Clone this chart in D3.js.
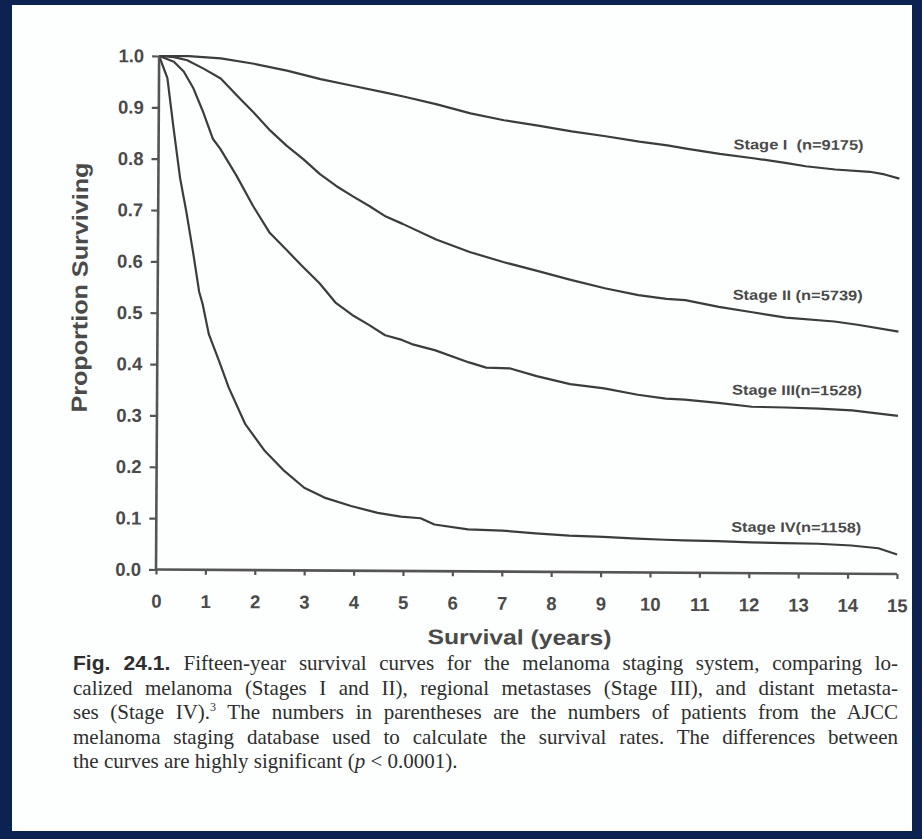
<!DOCTYPE html>
<html>
<head>
<meta charset="utf-8">
<script src="https://cdn.jsdelivr.net/npm/d3@7/dist/d3.min.js"></script>
<style>
  html, body { margin: 0; padding: 0; background: #0c2352; }
  svg { display: block; }
</style>
</head>
<body>
<svg id="fig" width="922" height="839"></svg>
<script>
// Kaplan–Meier survival estimates (years since diagnosis, proportion surviving)
const stageIYears  = [0, 0.6, 1.25, 1.92, 2.59, 3.27, 3.94, 4.61, 4.95, 5.63, 6.31, 6.99, 7.68, 8.36, 9.05, 9.73, 10.3, 10.68, 11.36, 12.04, 12.72, 13.1, 13.7, 14.4, 14.7, 15];
const stageIValues = [1.0, 1.0, 0.996, 0.986, 0.973, 0.957, 0.944, 0.931, 0.924, 0.909, 0.892, 0.879, 0.869, 0.858, 0.849, 0.839, 0.832, 0.826, 0.816, 0.808, 0.799, 0.793, 0.787, 0.783, 0.778, 0.770];

const stageIIYears  = [0, 0.3, 0.57, 0.9, 1.25, 1.58, 1.92, 2.26, 2.59, 2.93, 3.27, 3.6, 3.94, 4.28, 4.61, 4.95, 5.63, 6.31, 6.99, 7.68, 8.36, 9.05, 9.73, 10.3, 10.68, 11.36, 12.04, 12.72, 13.7, 14.17, 15];
const stageIIValues = [1.0, 0.998, 0.992, 0.976, 0.957, 0.924, 0.891, 0.856, 0.827, 0.801, 0.772, 0.749, 0.729, 0.71, 0.69, 0.676, 0.646, 0.622, 0.603, 0.586, 0.569, 0.553, 0.540, 0.533, 0.531, 0.518, 0.508, 0.498, 0.491, 0.485, 0.472];

const stageIIIYears  = [0, 0.3, 0.5, 0.7, 0.9, 1.1, 1.25, 1.58, 1.92, 2.26, 2.59, 2.93, 3.27, 3.6, 3.94, 4.28, 4.61, 4.95, 5.15, 5.63, 6.31, 6.66, 7.13, 7.68, 8.36, 9.05, 9.73, 10.3, 10.68, 11.36, 12.04, 12.72, 13.4, 14.07, 15];
const stageIIIValues = [1.0, 0.989, 0.97, 0.937, 0.891, 0.839, 0.82, 0.768, 0.709, 0.657, 0.625, 0.592, 0.56, 0.522, 0.498, 0.479, 0.459, 0.45, 0.442, 0.43, 0.407, 0.397, 0.396, 0.381, 0.366, 0.358, 0.346, 0.339, 0.337, 0.331, 0.324, 0.323, 0.321, 0.318, 0.308];

const stageIVYears  = [0, 0.17, 0.3, 0.44, 0.57, 0.71, 0.84, 0.91, 1.04, 1.25, 1.45, 1.79, 2.19, 2.59, 2.99, 3.4, 3.94, 4.48, 4.95, 5.35, 5.63, 6.31, 7.0, 7.68, 8.36, 9.05, 9.73, 10.3, 10.68, 11.36, 12.04, 12.72, 13.4, 14.07, 14.62, 15];
const stageIVValues = [1.0, 0.957, 0.86, 0.762, 0.697, 0.619, 0.541, 0.518, 0.459, 0.407, 0.355, 0.284, 0.232, 0.193, 0.161, 0.142, 0.126, 0.113, 0.106, 0.103, 0.091, 0.082, 0.08, 0.075, 0.071, 0.069, 0.066, 0.064, 0.063, 0.062, 0.06, 0.059, 0.058, 0.055, 0.05, 0.038];

const stageNames  = ["Stage I  (n=9175)", "Stage II (n=5739)", "Stage III(n=1528)", "Stage IV(n=1158)"];
const xTickValues = d3.range(0, 16);
const yTickValues = [0, 0.1, 0.2, 0.3, 0.4, 0.5, 0.6, 0.7, 0.8, 0.9, 1.0];

const captionLines = [
  "Fifteen-year survival curves for the melanoma staging system, comparing lo-",
  "calized melanoma (Stages I and II), regional metastases (Stage III), and distant metasta-",
  "The numbers in parentheses are the numbers of patients from the AJCC",
  "melanoma staging database used to calculate the survival rates. The differences between",
  "the curves are highly significant ("
];

const series = [
  { years: stageIYears,   values: stageIValues,   name: stageNames[0], labelY: 0.835 },
  { years: stageIIYears,  values: stageIIValues,  name: stageNames[1], labelY: 0.542 },
  { years: stageIIIYears, values: stageIIIValues, name: stageNames[2], labelY: 0.357 },
  { years: stageIVYears,  values: stageIVValues,  name: stageNames[3], labelY: 0.090 }
];

const svg = d3.select("#fig");
const sans = "'Liberation Sans', Arial, sans-serif";
const serif = "'Liberation Serif', 'Times New Roman', serif";
const ink = "#4a4a4a";

// page
svg.append("rect").attr("x", 0).attr("y", 0).attr("width", 922).attr("height", 839).attr("fill", "#0c2352");
svg.append("rect").attr("x", 12).attr("y", 5).attr("width", 900).attr("height", 826).attr("fill", "#fdfefe");

const x0 = 156, y0 = 569.5;
const x = d3.scaleLinear().domain([0, 15]).range([x0, 897]);
const y = d3.scaleLinear().domain([0, 1]).range([y0, 56]);

// the printed figure sits very slightly skewed on the page
const plot = svg.append("g").attr("transform", `rotate(0.35, ${x0}, ${y0})`);

// curves
const line = d3.line().x(d => x(d[0])).y(d => y(d[1]));
plot.selectAll("path.curve")
  .data(series)
  .join("path")
  .attr("class", "curve")
  .attr("d", s => line(s.years.map((t, i) => [t, s.values[i]])))
  .attr("fill", "none")
  .attr("stroke", "#3c3c3c")
  .attr("stroke-width", 2.2)
  .attr("stroke-linejoin", "round");

// axes
const yAxis = d3.axisLeft(y).tickValues(yTickValues).tickFormat(d3.format(".1f")).tickSize(7).tickPadding(8);
const xAxis = d3.axisBottom(x).tickValues(xTickValues).tickFormat(d3.format("d")).tickSize(5).tickPadding(20);

const gy = plot.append("g").attr("transform", `translate(${x0},0)`).call(yAxis);
const gx = plot.append("g").attr("transform", `translate(0,${y0})`).call(xAxis);

[gx, gy].forEach(g => {
  g.select(".domain").attr("stroke", "#555").attr("stroke-width", 2.6);
  g.selectAll(".tick line").attr("stroke", "#555").attr("stroke-width", 2.2);
  g.selectAll(".tick text")
    .attr("fill", ink)
    .style("font-family", sans)
    .style("font-weight", "bold")
    .style("font-size", "18.5px");
});
gx.select(".domain").attr("d", `M${x0},0H${x(15)}`);
gy.select(".domain").attr("d", `M0,${y0}V${y(1)}`);

// stage labels
plot.selectAll("text.stage")
  .data(series)
  .join("text")
  .attr("class", "stage")
  .attr("x", 731)
  .attr("y", s => y(s.labelY))
  .attr("dy", "0.35em")
  .attr("textLength", 130)
  .attr("lengthAdjust", "spacingAndGlyphs")
  .attr("fill", ink)
  .style("font-family", sans)
  .style("font-weight", "bold")
  .style("font-size", "14px")
  .style("white-space", "pre")
  .text(s => s.name);

// axis titles
plot.append("text")
  .attr("transform", "translate(78,288) rotate(-90)")
  .attr("text-anchor", "middle")
  .attr("dy", "0.35em")
  .attr("textLength", 250)
  .attr("lengthAdjust", "spacingAndGlyphs")
  .attr("fill", ink)
  .style("font-family", sans)
  .style("font-weight", "bold")
  .style("font-size", "22px")
  .text("Proportion Surviving");

plot.append("text")
  .attr("x", 520)
  .attr("y", 635)
  .attr("text-anchor", "middle")
  .attr("dy", "0.35em")
  .attr("textLength", 184)
  .attr("lengthAdjust", "spacingAndGlyphs")
  .attr("fill", ink)
  .style("font-family", sans)
  .style("font-weight", "bold")
  .style("font-size", "21px")
  .text("Survival (years)");

// caption
const capX = 73, capRight = 898, capTop = 670, capLead = 24.6;
const cap = svg.append("g")
  .style("font-family", serif)
  .style("font-size", "21px")
  .attr("fill", "#2e2e2e");

const lines = [];
lines.push(cap.append("text").attr("x", capX).attr("y", capTop));
lines[0].append("tspan").style("font-weight", "bold").style("font-family", "'Liberation Sans Narrow', 'Liberation Sans', sans-serif").text("Fig. 24.1. ");
lines[0].append("tspan").text(captionLines[0]);

lines.push(cap.append("text").attr("x", capX).attr("y", capTop + capLead).text(captionLines[1]));

lines.push(cap.append("text").attr("x", capX).attr("y", capTop + 2 * capLead));
lines[2].append("tspan").text("ses (Stage IV).");
lines[2].append("tspan").attr("dy", -8).style("font-size", "12px").text("3");
lines[2].append("tspan").attr("dy", 8).text(" " + captionLines[2]);

lines.push(cap.append("text").attr("x", capX).attr("y", capTop + 3 * capLead).text(captionLines[3]));

lines.push(cap.append("text").attr("x", capX).attr("y", capTop + 4 * capLead));
lines[4].append("tspan").text(captionLines[4]);
lines[4].append("tspan").style("font-style", "italic").text("p");
lines[4].append("tspan").text(" < 0.0001).");

// justify every line but the last by widening the word gaps
lines.slice(0, 4).forEach(t => {
  const natural = t.node().getComputedTextLength();
  const gaps = (t.text().match(/ /g) || []).length;
  if (gaps > 0) t.attr("word-spacing", (capRight - capX - natural) / gaps);
});
</script>
</body>
</html>
